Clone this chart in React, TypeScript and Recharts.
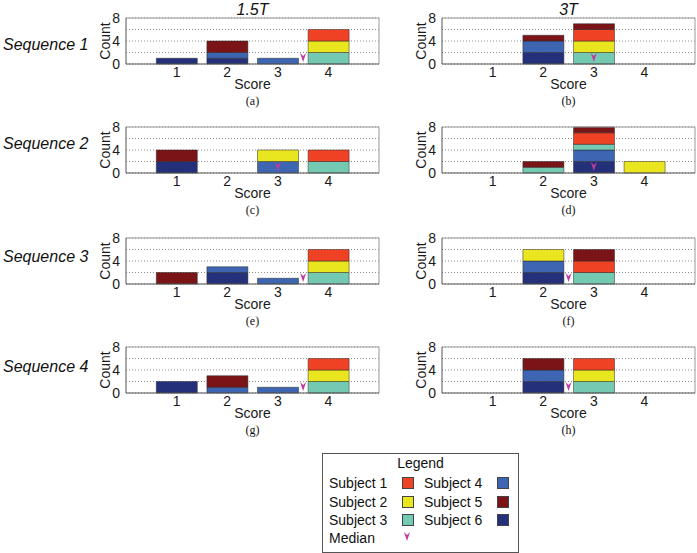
import React from 'react'
import {
  BarChart,
  Bar,
  XAxis,
  YAxis,
  CartesianGrid,
  ReferenceLine,
  ReferenceDot,
} from 'recharts'

const scores = [1, 2, 3, 4]
const subjects = ['Subject 1', 'Subject 2', 'Subject 3', 'Subject 4', 'Subject 5', 'Subject 6']
const subjectColors = ['#ef4123', '#e9e51e', '#74c9b2', '#3d65b1', '#7b1416', '#25307a']
// stacking order, bottom to top (subject indices)
const stackOrder = [5, 3, 2, 1, 0, 4]
const countTicks = [0, 2, 4, 6, 8]
const fieldLabels = ['1.5T', '3T']
const sequenceLabels = ['Sequence 1', 'Sequence 2', 'Sequence 3', 'Sequence 4']
const panelTags = ['(a)', '(b)', '(c)', '(d)', '(e)', '(f)', '(g)', '(h)']

// counts per subject (rows: Subject 1..6) for scores 1..4
const seq1_15T = [
  [0, 0, 0, 2],
  [0, 0, 0, 2],
  [0, 0, 0, 2],
  [0, 1, 1, 0],
  [0, 2, 0, 0],
  [1, 1, 0, 0],
]
const seq1_3T = [
  [0, 0, 2, 0],
  [0, 0, 2, 0],
  [0, 0, 2, 0],
  [0, 2, 0, 0],
  [0, 1, 1, 0],
  [0, 2, 0, 0],
]
const seq2_15T = [
  [0, 0, 0, 2],
  [0, 0, 2, 0],
  [0, 0, 0, 2],
  [0, 0, 2, 0],
  [2, 0, 0, 0],
  [2, 0, 0, 0],
]
const seq2_3T = [
  [0, 0, 2, 0],
  [0, 0, 0, 2],
  [0, 1, 1, 0],
  [0, 0, 2, 0],
  [0, 1, 1, 0],
  [0, 0, 2, 0],
]
const seq3_15T = [
  [0, 0, 0, 2],
  [0, 0, 0, 2],
  [0, 0, 0, 2],
  [0, 1, 1, 0],
  [2, 0, 0, 0],
  [0, 2, 0, 0],
]
const seq3_3T = [
  [0, 0, 2, 0],
  [0, 2, 0, 0],
  [0, 0, 2, 0],
  [0, 2, 0, 0],
  [0, 0, 2, 0],
  [0, 2, 0, 0],
]
const seq4_15T = [
  [0, 0, 0, 2],
  [0, 0, 0, 2],
  [0, 0, 0, 2],
  [0, 1, 1, 0],
  [0, 2, 0, 0],
  [2, 0, 0, 0],
]
const seq4_3T = [
  [0, 0, 2, 0],
  [0, 0, 2, 0],
  [0, 0, 2, 0],
  [0, 2, 0, 0],
  [0, 2, 0, 0],
  [0, 2, 0, 0],
]
const medians = [3.5, 3, 3, 3, 3.5, 2.5, 3.5, 2.5]

const panelCounts = [seq1_15T, seq1_3T, seq2_15T, seq2_3T, seq3_15T, seq3_3T, seq4_15T, seq4_3T]

const plotLefts = [126, 442]
const plotTops = [18, 127, 238, 347]
const plotW = 253
const plotH = 46
const topPad = 10
const seqLabelY = [45, 144, 257, 367]

const SANS = '"Liberation Sans", Arial, sans-serif'
const SERIF = '"Liberation Serif", "Times New Roman", serif'
const MEDIAN_COLOR = '#c23a9f'

function toRows(counts: number[][]) {
  return scores.map((s, i) => {
    const row: Record<string, number> = { score: s }
    counts.forEach((c, k) => {
      row['s' + (k + 1)] = c[i]
    })
    return row
  })
}

function MedianMark({ cx, cy }: { cx: number; cy: number }) {
  const tip = cy - 2
  const top = cy - 11
  return (
    <path
      d={`M${cx - 3},${top} L${cx},${top + 3} L${cx + 3},${top} L${cx},${tip} Z`}
      fill={MEDIAN_COLOR}
    />
  )
}

function CountLabel(props: any) {
  const vb = props.viewBox || {}
  const x = vb.x + 15
  const y = vb.y + vb.height / 2
  return (
    <text
      x={x}
      y={y}
      transform={`rotate(-90, ${x}, ${y})`}
      textAnchor="middle"
      dominantBaseline="central"
      fontSize={14}
      fontFamily={SANS}
      fill="#1a1a1a"
    >
      Count
    </text>
  )
}

function Panel({ counts, median, left, top }: { counts: number[][]; median: number; left: number; top: number }) {
  const tick = { fontSize: 14, fill: '#1a1a1a', fontFamily: SANS }
  return (
    <div style={{ position: 'absolute', left: left - 36, top: top - topPad }}>
      <BarChart
        width={36 + plotW + 2}
        height={topPad + plotH + 27}
        data={toRows(counts)}
        margin={{ top: topPad, right: 2, bottom: 0, left: 0 }}
      >
        <CartesianGrid vertical={false} stroke="#8c8c8c" strokeDasharray="1 2" />
        <XAxis
          dataKey="score"
          type="number"
          domain={[0, 5]}
          ticks={scores}
          interval={0}
          tickSize={0}
          tickMargin={3}
          height={27}
          stroke="#555"
          tick={tick}
          label={{ value: 'Score', position: 'insideBottom', offset: 2, fontSize: 14, fill: '#1a1a1a', fontFamily: SANS }}
        />
        <YAxis
          type="number"
          domain={[0, 8]}
          ticks={countTicks}
          interval={0}
          tickFormatter={v => (v % 4 === 0 ? String(v) : '')}
          tickSize={0}
          tickMargin={6}
          width={36}
          stroke="#555"
          tick={tick}
          label={<CountLabel />}
        />
        {stackOrder.map(k => (
          <Bar
            key={k}
            dataKey={'s' + (k + 1)}
            stackId="a"
            fill={subjectColors[k]}
            stroke="#2a2a2a"
            strokeWidth={0.5}
            barSize={41}
            isAnimationActive={false}
          />
        ))}
        <ReferenceLine y={8} stroke="#9a9a9a" />
        <ReferenceLine x={5} stroke="#9a9a9a" />
        <ReferenceDot
          x={median}
          y={0}
          r={0}
          shape={(p: any) => <MedianMark cx={p.cx} cy={p.cy} />}
        />
      </BarChart>
    </div>
  )
}

function Swatch({ color }: { color: string }) {
  return (
    <div
      style={{
        width: 10,
        height: 10,
        background: color,
        border: '1px solid #444',
      }}
    />
  )
}

function LegendBox() {
  const rowY = [483, 502, 520]
  const items: React.ReactNode[] = []
  subjects.forEach((name, i) => {
    const col = i < 3 ? 0 : 1
    const y = rowY[i % 3]
    const textX = col === 0 ? 329 : 424
    const swX = col === 0 ? 402 : 497
    items.push(
      <div key={'t' + i} style={{ position: 'absolute', left: textX, top: y - 9, fontSize: 14, lineHeight: '18px' }}>
        {name}
      </div>,
      <div key={'s' + i} style={{ position: 'absolute', left: swX, top: y - 6 }}>
        <Swatch color={subjectColors[i]} />
      </div>
    )
  })
  return (
    <>
      <div
        style={{
          position: 'absolute',
          left: 322,
          top: 453,
          width: 195,
          height: 98,
          border: '1px solid #555',
        }}
      />
      <div style={{ position: 'absolute', left: 322, width: 197, top: 454, textAlign: 'center', fontSize: 14, lineHeight: '18px' }}>
        Legend
      </div>
      {items}
      <div style={{ position: 'absolute', left: 329, top: 529, fontSize: 14, lineHeight: '18px' }}>Median</div>
      <svg style={{ position: 'absolute', left: 400, top: 530 }} width={14} height={14}>
        <MedianMark cx={7} cy={13} />
      </svg>
    </>
  )
}

export default function App() {
  return (
    <div
      style={{
        position: 'absolute',
        left: 0,
        top: 0,
        width: 697,
        height: 553,
        background: '#fff',
        fontFamily: SANS,
        color: '#111',
        overflow: 'hidden',
      }}
    >
      {fieldLabels.map((t, c) => (
        <div
          key={t}
          style={{
            position: 'absolute',
            left: plotLefts[c],
            width: plotW,
            top: 1,
            textAlign: 'center',
            fontSize: 16,
            fontStyle: 'italic',
            lineHeight: '18px',
          }}
        >
          {t}
        </div>
      ))}
      {sequenceLabels.map((t, r) => (
        <div
          key={t}
          style={{
            position: 'absolute',
            left: 3,
            top: seqLabelY[r] - 10,
            fontSize: 16,
            fontStyle: 'italic',
            lineHeight: '20px',
            whiteSpace: 'nowrap',
          }}
        >
          {t}
        </div>
      ))}
      {panelCounts.map((counts, i) => {
        const r = Math.floor(i / 2)
        const c = i % 2
        return (
          <React.Fragment key={i}>
            <Panel counts={counts} median={medians[i]} left={plotLefts[c]} top={plotTops[r]} />
            <div
              style={{
                position: 'absolute',
                left: plotLefts[c],
                width: plotW,
                top: plotTops[r] + plotH + 30,
                textAlign: 'center',
                fontFamily: SERIF,
                fontSize: 12,
                lineHeight: '14px',
              }}
            >
              {panelTags[i]}
            </div>
          </React.Fragment>
        )
      })}
      <LegendBox />
    </div>
  )
}
